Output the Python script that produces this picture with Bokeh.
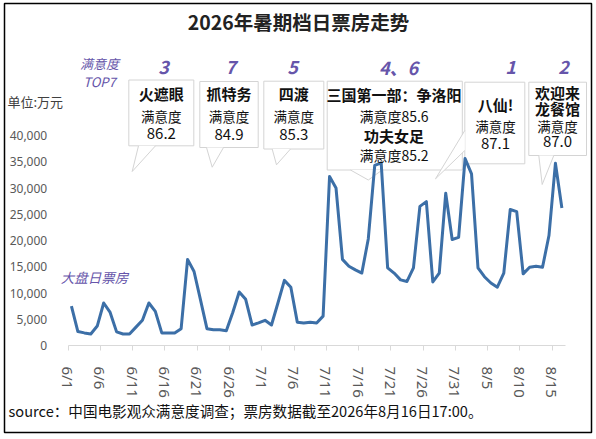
import math
import numpy as np
import pandas as pd
from bokeh.plotting import figure
from bokeh.models import Range1d, FixedTicker, Label, NumeralTickFormatter
from bokeh.embed import file_html
from bokeh.resources import INLINE

# ---------------- data ----------------
dates = pd.date_range("2026-06-01", "2026-08-16", freq="D")
box_office = [7500, 2650, 2400, 2200, 3700, 8100, 6300, 2600, 2200, 2200,
              3500, 4800, 8100, 6500, 2400, 2400, 2400, 3200, 16400, 14100,
              8700, 3200, 3000, 3000, 2800, 6300, 10200, 8800, 3900, 4300,
              4800, 3900, 8100, 12400, 11100, 4450, 4300, 4450, 4300, 5600,
              32200, 30000, 16400, 15100, 14400, 13800, 20300, 34300, 34800, 14800,
              13800, 12500, 12200, 14800, 26500, 27400, 12100, 13800, 29000, 20200,
              20600, 35600, 32700, 14800, 13100, 11900, 11100, 13800, 25900, 25500,
              13650, 14900, 15100, 14900, 20950, 34700, 26200]
tick_every = 5
y_ticks = [0, 5000, 10000, 15000, 20000, 25000, 30000, 35000, 40000]
films = ["火遮眼", "抓特务", "四渡", "三国第一部：争洛阳", "功夫女足", "八仙!", "欢迎来龙餐馆"]
scores = [86.2, 84.9, 85.3, 85.6, 85.2, 87.1, 87.0]
ranks = ["3", "7", "5", "4、6", "1", "2"]
title_text = "2026年暑期档日票房走势"
unit_text = "单位:万元"
series_text = "大盘日票房"
top_text = ["满意度", "TOP7"]
source_text = "source：中国电影观众满意度调查；票房数据截至2026年8月16日17:00。"

# ---------------- layout (page pixels) ----------------
W, H = 596, 439
FL, FR, FT, FB = 4, 591, 3, 432          # chart border = plot frame
AX_L, AX_R = 67.7, 564.6                  # category axis extent
Y0_PX, Y40K_PX = 345.0, 135.0             # pixel rows of 0 and 40,000
NCAT = len(box_office)
px_day = (AX_R - AX_L) / NCAT
KY = (Y0_PX - Y40K_PX) / 40000.0


def X(a):
    return (a - AX_L) / px_day


def Y(a):
    return (Y0_PX - a) / KY


CJK = "Noto Sans CJK SC"
PURPLE = "#6655aa"
GRAY = "#d4d4d4"
LINE = "#3c6fa7"

p = figure(width=W, height=H,
           x_range=Range1d(X(FL), X(FR)), y_range=Range1d(Y(FB), Y(FT)),
           output_backend="svg", toolbar_location=None,
           min_border_left=FL, min_border_right=W - FR,
           min_border_top=FT, min_border_bottom=H - FB)
p.outline_line_color = "black"
p.outline_line_width = 1.5
p.grid.visible = False
p.background_fill_color = "white"
p.border_fill_color = "white"

# axes (drawn at fixed locations inside the frame)
p.yaxis.fixed_location = 0
p.yaxis.ticker = FixedTicker(ticks=y_ticks)
p.yaxis.formatter = NumeralTickFormatter(format="0,0")
p.yaxis.axis_line_color = None
p.yaxis.major_tick_line_color = None
p.yaxis.minor_tick_line_color = None
p.yaxis.major_label_text_font = "Noto Sans"
p.yaxis.major_label_text_font_size = "12px"
p.yaxis.major_label_text_color = "#595959"
p.yaxis.major_label_standoff = 15

xt = list(range(0, NCAT, tick_every))
p.xaxis.fixed_location = 0
p.xaxis.bounds = (0, NCAT)
p.xaxis.ticker = FixedTicker(ticks=xt)
p.xaxis.major_label_overrides = {t: f"{dates[t].month}/{dates[t].day}" for t in xt}
p.xaxis.major_label_orientation = -math.pi / 2
p.xaxis.axis_line_color = "#d9d9d9"
p.xaxis.major_tick_line_color = "#d9d9d9"
p.xaxis.major_tick_out = 5
p.xaxis.major_tick_in = 0
p.xaxis.minor_tick_line_color = None
p.xaxis.major_label_text_font = "Noto Sans"
p.xaxis.major_label_text_font_size = "15px"
p.xaxis.major_label_text_color = "#595959"
p.xaxis.major_label_standoff = 16

# callouts: box (l, t, r, b), pointer (p1, p2, tip) in page pixels
callouts = [
    dict(box=(128.3, 79.5, 193.3, 145.3), ptr=((138, 145.3), (155, 145.3), (131.7, 171)), cx=160.8,
         lines=[(films[0], 93, 15, True), ("满意度", 115, 13.5, False), (f"{scores[0]:.1f}", 133, 15, False)],
         rank=(ranks[0], 163)),
    dict(box=(199.3, 81, 257.7, 147), ptr=((206, 147), (223, 147), (211.7, 166.7)), cx=228.5,
         lines=[(films[1], 93, 15, True), ("满意度", 115, 13.5, False), (f"{scores[1]:.1f}", 134, 15, False)],
         rank=(ranks[1], 230)),
    dict(box=(263.3, 80.7, 323.3, 148.5), ptr=((271.7, 148.5), (290, 148.5), (276, 164.3)), cx=293.3,
         lines=[(films[2], 93, 15, True), ("满意度", 115, 13.5, False), (f"{scores[2]:.1f}", 134, 15, False)],
         rank=(ranks[2], 292)),
    dict(box=(326.7, 80.7, 461.8, 169.5), ptr=((350, 169.5), (381.7, 169.5), (367.8, 179.5)), cx=393.5,
         lines=[(films[3], 94.3, 15, True), (f"满意度{scores[3]:.1f}", 115, 14, False),
                (films[4], 135, 15, True), (f"满意度{scores[4]:.1f}", 154, 14, False)],
         rank=(ranks[3], 398)),
    dict(box=(464.3, 81.7, 524.3, 163.3), ptr=((464.3, 130), (464.3, 150), (435, 178.3)), cx=495,
         lines=[(films[5], 104, 15, True), ("满意度", 125, 13.5, False), (f"{scores[5]:.1f}", 143.3, 15, False)],
         rank=(ranks[4], 510)),
    dict(box=(528.3, 81.7, 586, 155), ptr=((538.3, 155), (553.3, 155), (541.7, 184)), cx=557,
         lines=[(films[6][:3], 91.7, 15, True), (films[6][3:], 108.3, 15, True),
                ("满意度", 125, 13.5, False), (f"{scores[6]:.1f}", 140.5, 15, False)],
         rank=(ranks[5], 563)),
]

for c in callouts:
    l, t, r, b = c["box"]
    p.quad(left=X(l), right=X(r), top=Y(t), bottom=Y(b), fill_color="white",
           line_color=GRAY, line_width=1)
    (ax_, ay_), (bx_, by_), (tx_, ty_) = c["ptr"]
    p.patch(x=[X(ax_), X(bx_), X(tx_)], y=[Y(ay_), Y(by_), Y(ty_)], fill_color="white", line_color=None)
    p.line(x=[X(ax_), X(tx_), X(bx_)], y=[Y(ay_), Y(ty_), Y(by_)], line_color=GRAY, line_width=1)
    for txt, yy, fs, bold in c["lines"]:
        p.add_layout(Label(x=X(c["cx"]), y=Y(yy), text=txt, text_align="center", text_baseline="middle",
                           text_font=CJK, text_font_size=f"{fs}px",
                           text_font_style="bold" if bold else "normal", text_color="#111111"))
    rk, rx = c["rank"]
    p.add_layout(Label(x=X(rx), y=Y(66), text=rk, text_align="center", text_baseline="middle",
                       text_font=CJK, text_font_size="18px", text_font_style="bold italic",
                       text_color=PURPLE))

# main series
p.line(x=np.arange(NCAT) + 0.5, y=box_office, line_width=3, line_color=LINE, line_join="round")

# texts
p.add_layout(Label(x=X(298), y=Y(21), text=title_text, text_align="center", text_baseline="middle",
                   text_font=CJK, text_font_size="19.5px", text_font_style="bold", text_color="#222222"))
p.add_layout(Label(x=X(7), y=Y(101), text=unit_text, text_align="left", text_baseline="middle",
                   text_font=CJK, text_font_size="13px", text_color="#404040"))
p.add_layout(Label(x=X(94), y=Y(276), text=series_text, text_align="center", text_baseline="middle",
                   text_font=CJK, text_font_size="13.5px", text_font_style="italic", text_color=PURPLE))
for txt, yy in zip(top_text, [63, 81]):
    p.add_layout(Label(x=X(99), y=Y(yy), text=txt, text_align="center", text_baseline="middle",
                       text_font=CJK, text_font_size="13px", text_font_style="italic", text_color=PURPLE))
p.add_layout(Label(x=X(8), y=Y(410), text=source_text, text_align="left", text_baseline="middle",
                   text_font=CJK, text_font_size="14.6px", text_color="#111111"))

open("out.html", "w").write(file_html(p, INLINE))
